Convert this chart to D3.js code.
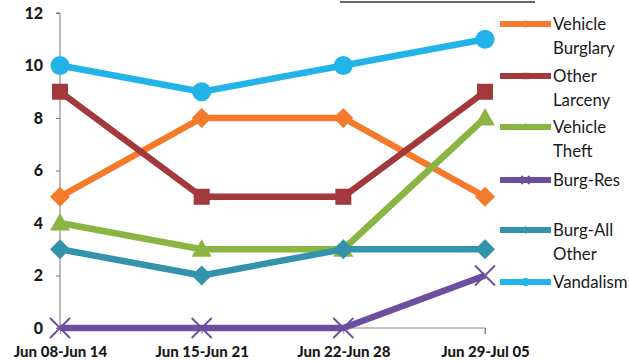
<!DOCTYPE html>
<html>
<head>
<meta charset="utf-8">
<script src="https://cdn.jsdelivr.net/npm/d3@7/dist/d3.min.js"></script>
<style>
html,body{margin:0;padding:0;background:#fff;}
svg{display:block;font-family:Lato,"Open Sans",sans-serif;}
</style>
</head>
<body>
<svg id="chart" width="629" height="361"></svg>
<script>
const categories = ["Jun 08-Jun 14", "Jun 15-Jun 21", "Jun 22-Jun 28", "Jun 29-Jul 05"];
const seriesNames = ["Vehicle Burglary", "Other Larceny", "Vehicle Theft", "Burg-Res", "Burg-All Other", "Vandalism"];
const vehicleBurglary = [5, 8, 8, 5];
const otherLarceny = [9, 5, 5, 9];
const vehicleTheft = [4, 3, 3, 8];
const burgRes = [0, 0, 0, 2];
const burgAllOther = [3, 2, 3, 3];
const vandalism = [10, 9, 10, 11];
const yTicks = [0, 2, 4, 6, 8, 10, 12];
const legendLines = [["Vehicle", "Burglary"], ["Other", "Larceny"], ["Vehicle", "Theft"], ["Burg-Res"], ["Burg-All", "Other"], ["Vandalism"]];

const colors = ["#F47A2C", "#A3393C", "#8BB543", "#6B4F9E", "#3393AB", "#22B3E8"];
const symbols = ["diamond", "square", "triangle", "x", "diamond", "circle"];
const values = [vehicleBurglary, otherLarceny, vehicleTheft, burgRes, burgAllOther, vandalism];

const svg = d3.select("#chart");
const x = d3.scalePoint().domain(categories).range([60, 485]);
const y = d3.scaleLinear().domain([0, 12]).range([328, 13]);

// cut-off title underline
svg.append("line").attr("x1", 340).attr("x2", 535).attr("y1", 2).attr("y2", 2)
  .attr("stroke", "#333").attr("stroke-width", 1.5);

// y axis
const yAxis = svg.append("g").attr("transform", "translate(60,0)")
  .call(d3.axisLeft(y).tickValues(yTicks).tickSize(4).tickPadding(13).tickFormat(d3.format("d")));
yAxis.select(".domain").attr("stroke", "#777").attr("d", "M-4,13H0V328H-4");
yAxis.selectAll(".tick line").attr("stroke", "#777");
yAxis.selectAll("text").attr("font-size", 16).attr("font-weight", "900").attr("fill", "#1a1a1a")
  .attr("font-family", "Lato,sans-serif");

// x axis
const xAxis = svg.append("g").attr("transform", "translate(0,328)")
  .call(d3.axisBottom(x).tickSize(6).tickPadding(12));
xAxis.select(".domain").attr("stroke", "#888").attr("d", "M60,0H485V6");
xAxis.selectAll(".tick line").attr("stroke", "#888");
xAxis.selectAll("text").attr("font-size", 15).attr("font-weight", "900").attr("fill", "#1a1a1a")
  .attr("font-family", "Lato,sans-serif");

function marker(g, type, cx, cy, color, s) {
  if (type === "diamond") {
    g.append("path").attr("d", `M${cx},${cy - s}L${cx + s},${cy}L${cx},${cy + s}L${cx - s},${cy}Z`).attr("fill", color);
  } else if (type === "square") {
    g.append("rect").attr("x", cx - s * 0.8).attr("y", cy - s * 0.8).attr("width", s * 1.6).attr("height", s * 1.6).attr("fill", color);
  } else if (type === "triangle") {
    g.append("path").attr("d", `M${cx},${cy - s}L${cx + s},${cy + s * 0.75}L${cx - s},${cy + s * 0.75}Z`).attr("fill", color);
  } else if (type === "x") {
    g.append("path").attr("d", `M${cx - s},${cy - s}L${cx + s},${cy + s}M${cx - s},${cy + s}L${cx + s},${cy - s}`)
      .attr("stroke", color).attr("stroke-width", 1.8);
  } else if (type === "circle") {
    g.append("circle").attr("cx", cx).attr("cy", cy).attr("r", s).attr("fill", color);
  }
}

const line = d3.line().x((d, i) => x(categories[i])).y(d => y(d));

values.forEach((vals, si) => {
  const g = svg.append("g");
  g.append("path").datum(vals).attr("d", line).attr("fill", "none")
    .attr("stroke", colors[si]).attr("stroke-width", 6.5).attr("stroke-linejoin", "round");
  vals.forEach((v, i) => {
    const sz = symbols[si] === "circle" ? 9.5 : 10;
    marker(g, symbols[si], x(categories[i]), y(v), colors[si], sz);
  });
});

// legend
const legendY = [24, 76, 127, 180, 230, 282];
seriesNames.forEach((name, si) => {
  const g = svg.append("g");
  const ly = legendY[si];
  g.append("line").attr("x1", 500).attr("x2", 551).attr("y1", ly).attr("y2", ly)
    .attr("stroke", colors[si]).attr("stroke-width", 6);
  marker(g, symbols[si], 525.5, ly, colors[si], 4);
  legendLines[si].forEach((t, k) => {
    g.append("text").attr("x", 553).attr("y", ly + k * 24 + 6)
      .attr("font-size", 16.8).attr("fill", "#1a1a1a").attr("font-family", "Lato,sans-serif").text(t);
  });
});
</script>
</body>
</html>
